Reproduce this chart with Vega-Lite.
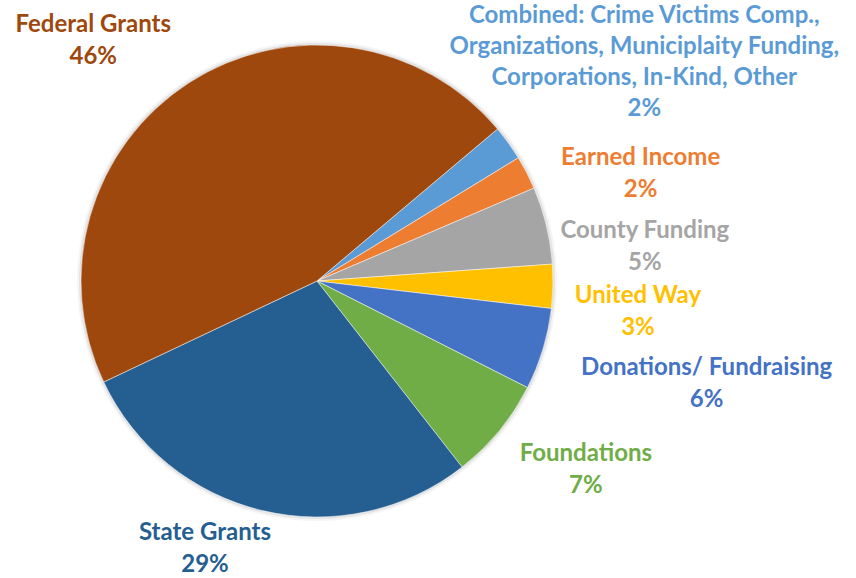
{
  "$schema": "https://vega.github.io/schema/vega-lite/v6.json",
  "width": 634,
  "height": 562,
  "autosize": {"type": "none"},
  "padding": {"left": 0, "top": 0, "right": 222, "bottom": 16},
  "background": "white",
  "config": {"view": {"stroke": null}},
  "data": {
    "values": [
      {"key": "Combined", "label": "Combined: Crime Victims Comp.,\nOrganizations, Municiplaity Funding,\nCorporations, In-Kind, Other\n2%", "value": 2.4, "order": 1},
      {"key": "Earned Income", "label": "Earned Income\n2%", "value": 2.3, "order": 2},
      {"key": "County Funding", "label": "County Funding\n5%", "value": 5.3, "order": 3},
      {"key": "United Way", "label": "United Way\n3%", "value": 3.0, "order": 4},
      {"key": "Donations/ Fundraising", "label": "Donations/ Fundraising\n6%", "value": 5.6, "order": 5},
      {"key": "Foundations", "label": "Foundations\n7%", "value": 7.0, "order": 6},
      {"key": "State Grants", "label": "State Grants\n29%", "value": 28.5, "order": 7},
      {"key": "Federal Grants", "label": "Federal Grants\n46%", "value": 45.9, "order": 8}
    ]
  },
  "encoding": {
    "theta": {"field": "value", "type": "quantitative", "stack": true, "scale": {"range": [0.8709, 7.1541], "nice": false, "zero": true}},
    "order": {"field": "order", "type": "quantitative", "sort": "ascending"}
  },
  "layer": [
    {
      "mark": {"type": "arc", "outerRadius": 240, "fill": "#000000", "opacity": 0.04, "strokeWidth": 0}
    },
    {
      "mark": {"type": "arc", "outerRadius": 238, "fill": "#000000", "opacity": 0.07, "strokeWidth": 0}
    },
    {
      "mark": {"type": "arc", "outerRadius": 236, "stroke": "#ffffff", "strokeWidth": 0.5},
      "encoding": {
        "color": {
          "field": "key", "type": "nominal", "legend": null,
          "scale": {
            "domain": ["Combined", "Earned Income", "County Funding", "United Way", "Donations/ Fundraising", "Foundations", "State Grants", "Federal Grants"],
            "range": ["#5B9BD5", "#ED7D31", "#A5A5A5", "#FFC000", "#4472C4", "#70AD47", "#255E91", "#9E480E"]
          }
        }
      }
    },
    {
      "mark": {"type": "text", "radius": 290, "dx": -67, "dy": -24, "align": "center", "baseline": "top", "font": "Lato", "fontWeight": "bold", "fontSize": 24, "lineHeight": 32, "lineBreak": "\n", "fill": "#9E480E"},
      "encoding": {"text": {"condition": {"test": "datum.key === 'Federal Grants'", "field": "label", "type": "nominal"}, "value": ""}}
    },
    {
      "mark": {"type": "text", "radius": 290, "dx": 92, "dy": -107, "align": "center", "baseline": "top", "font": "Lato", "fontWeight": "bold", "fontSize": 24, "lineHeight": 31, "lineBreak": "\n", "fill": "#5B9BD5"},
      "encoding": {"text": {"condition": {"test": "datum.key === 'Combined'", "field": "label", "type": "nominal"}, "value": ""}}
    },
    {
      "mark": {"type": "text", "radius": 290, "dx": 66, "dy": -2, "align": "center", "baseline": "top", "font": "Lato", "fontWeight": "bold", "fontSize": 24, "lineHeight": 32, "lineBreak": "\n", "fill": "#ED7D31"},
      "encoding": {"text": {"condition": {"test": "datum.key === 'Earned Income'", "field": "label", "type": "nominal"}, "value": ""}}
    },
    {
      "mark": {"type": "text", "radius": 290, "dx": 46, "dy": 6, "align": "center", "baseline": "top", "font": "Lato", "fontWeight": "bold", "fontSize": 24, "lineHeight": 32, "lineBreak": "\n", "fill": "#A5A5A5"},
      "encoding": {"text": {"condition": {"test": "datum.key === 'County Funding'", "field": "label", "type": "nominal"}, "value": ""}}
    },
    {
      "mark": {"type": "text", "radius": 290, "dx": 31, "dy": -4, "align": "center", "baseline": "top", "font": "Lato", "fontWeight": "bold", "fontSize": 24, "lineHeight": 32, "lineBreak": "\n", "fill": "#FFC000"},
      "encoding": {"text": {"condition": {"test": "datum.key === 'United Way'", "field": "label", "type": "nominal"}, "value": ""}}
    },
    {
      "mark": {"type": "text", "radius": 290, "dx": 112, "dy": -9, "align": "center", "baseline": "top", "font": "Lato", "fontWeight": "bold", "fontSize": 24, "lineHeight": 32, "lineBreak": "\n", "fill": "#4472C4"},
      "encoding": {"text": {"condition": {"test": "datum.key === 'Donations/ Fundraising'", "field": "label", "type": "nominal"}, "value": ""}}
    },
    {
      "mark": {"type": "text", "radius": 290, "dx": 45, "dy": -23, "align": "center", "baseline": "top", "font": "Lato", "fontWeight": "bold", "fontSize": 24, "lineHeight": 32, "lineBreak": "\n", "fill": "#70AD47"},
      "encoding": {"text": {"condition": {"test": "datum.key === 'Foundations'", "field": "label", "type": "nominal"}, "value": ""}}
    },
    {
      "mark": {"type": "text", "radius": 290, "dx": -45, "dy": -42, "align": "center", "baseline": "top", "font": "Lato", "fontWeight": "bold", "fontSize": 24, "lineHeight": 32, "lineBreak": "\n", "fill": "#255E91"},
      "encoding": {"text": {"condition": {"test": "datum.key === 'State Grants'", "field": "label", "type": "nominal"}, "value": ""}}
    }
  ]
}
